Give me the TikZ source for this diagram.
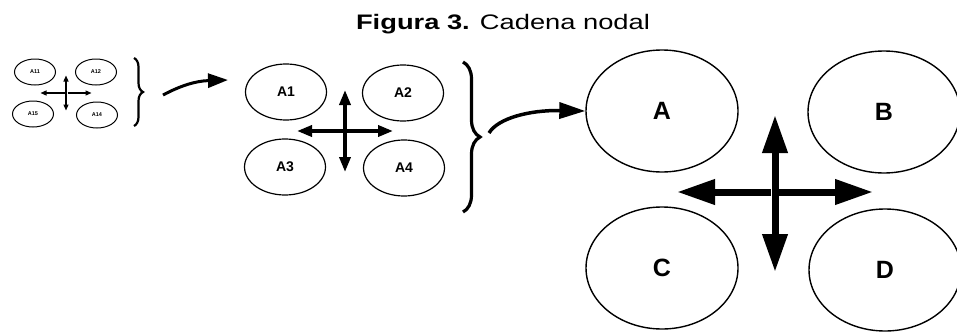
\documentclass[tikz,border=0pt]{standalone}
\usepackage{fontspec}
\setmainfont{Liberation Sans}
\setsansfont{Liberation Sans}
\usetikzlibrary{shapes.geometric,arrows.meta,decorations.pathreplacing}
\begin{document}
\begin{tikzpicture}[x=1pt,y=-1pt,
  oval/.style={ellipse,draw,line width=1.4pt,inner sep=0pt,font=\bfseries},
  bigoval/.style={oval,minimum width=152pt,minimum height=122pt,font=\fontsize{25}{25}\selectfont\bfseries},
  midoval/.style={oval,line width=1.2pt,minimum width=81pt,minimum height=56pt,font=\fontsize{14}{14}\selectfont\bfseries},
  smalloval/.style={oval,line width=1pt,minimum width=41pt,minimum height=26pt,font=\fontsize{5.5}{5.5}\selectfont\bfseries},
  bigarr/.style={line width=7pt,-{Triangle[length=38pt,width=24pt]}},
  midarr/.style={line width=3.5pt,-{Triangle[length=15pt,width=11pt]}},
  smallarr/.style={line width=1.3pt,-{Triangle[length=6pt,width=5pt]}},
  bracestyle/.style={decorate,decoration={brace,amplitude=#1}},
]
\useasboundingbox (0,0) rectangle (957,332);
% title
\node[anchor=base,inner sep=0pt] (title) at (503,29) {\scalebox{1.3}[1]{\fontsize{21}{21}\selectfont\textbf{Figura 3.} Cadena nodal}};

% small stage
\node[smalloval] (a11) at (35,72) {A11};
\node[smalloval] (a12) at (96,72) {A12};
\node[smalloval] (a15) at (33,114) {A15};
\node[smalloval] (a14) at (97,115) {A14};
\coordinate (sc) at (66,93);
\draw[smallarr] ([xshift=1.5pt]sc) -- ++(24,0);
\draw[smallarr] ([xshift=-1.5pt]sc) -- ++(-24,0);
\draw[smallarr] ([yshift=-1.5pt]sc) -- ++(0,-19);
\draw[smallarr] ([yshift=1.5pt]sc) -- ++(0,19);
\draw[bracestyle=9pt,line width=2.2pt] (134,58) -- (134,126);
\coordinate (s1) at (163,95);
\coordinate (s2) at (228,80);
\draw[line width=3pt,-{Triangle[length=20pt,width=14pt]}] (s1) .. controls (180,86) and (195,81) .. (s2);

% medium stage
\node[midoval] (a1) at (286,92) {A1};
\node[midoval] (a2) at (403,93) {A2};
\node[midoval] (a3) at (285,167) {A3};
\node[midoval] (a4) at (404,168) {A4};
\coordinate (mc) at (345,131);
\draw[midarr] ([xshift=2pt]mc) -- (393,131);
\draw[midarr] ([xshift=-2pt]mc) -- (297,131);
\draw[midarr] ([yshift=-2pt]mc) -- (345,90);
\draw[midarr] ([yshift=2pt]mc) -- (345,172);
\draw[bracestyle=17pt,line width=3.2pt] (463,62) -- (463,212);
\coordinate (m1) at (489,133);
\node[bigoval] (A) at (662,111) {A};
\draw[line width=3.5pt,-{Triangle[length=26pt,width=16pt]}] (m1) .. controls (498,118) and (530,110) .. (A.west);

% large stage
\node[bigoval] (B) at (884,112) {B};
\node[bigoval] (C) at (662,268) {C};
\node[bigoval] (D) at (885,270) {D};
\coordinate (bc) at (775,192);
\draw[bigarr] ([xshift=4pt]bc) -- (873,192);
\draw[bigarr] ([xshift=-4pt]bc) -- (677,192);
\draw[bigarr] ([yshift=-4pt]bc) -- (775,115);
\draw[bigarr] ([yshift=4pt]bc) -- (775,272);
\end{tikzpicture}
\end{document}
